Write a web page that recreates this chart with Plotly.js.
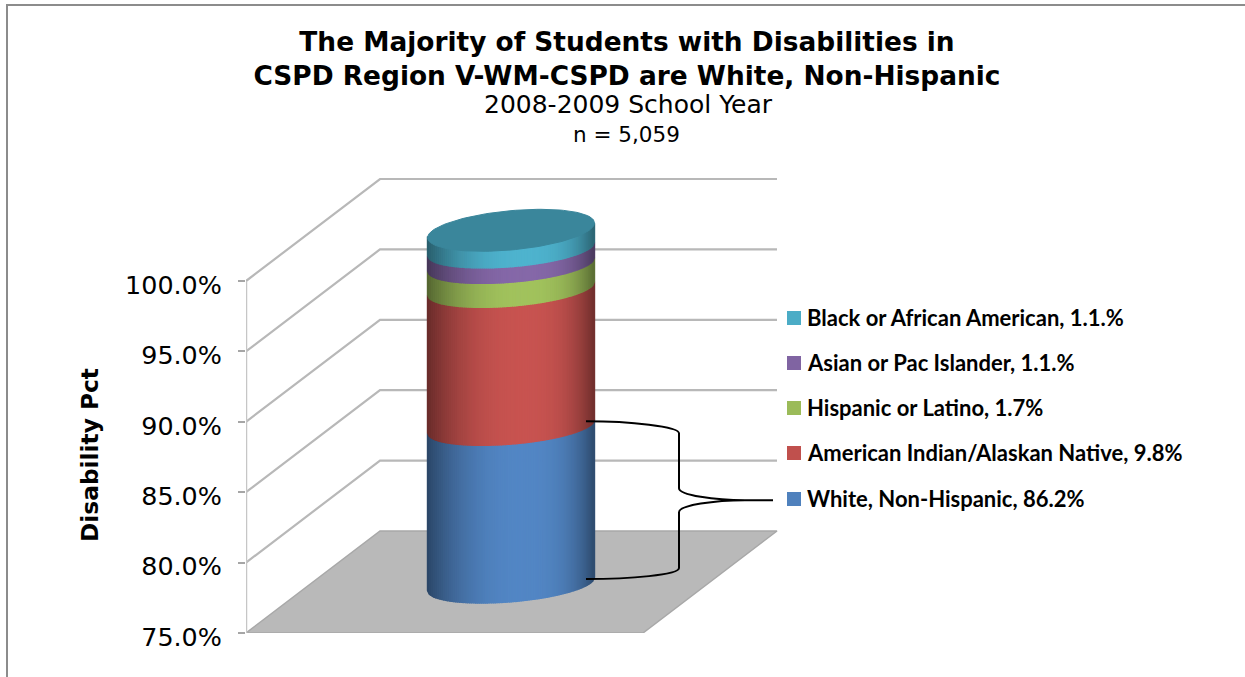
<!DOCTYPE html>
<html>
<head>
<meta charset="utf-8">
<script src="https://cdn.plot.ly/plotly-3.0.1.min.js"></script>
<style>html,body{margin:0;padding:0;background:#fff;overflow:hidden}</style>
</head>
<body>
<div id="chart" style="width:1245px;height:677px"></div>
<script>
// Stack order runs from the floor upward.
const categories = ["White, Non-Hispanic", "American Indian/Alaskan Native", "Hispanic or Latino", "Asian or Pac Islander", "Black or African American"];
const values = [86.2, 9.8, 1.7, 1.1, 1.1];
const valueLabels = ["86.2%", "9.8%", "1.7%", "1.1.%", "1.1.%"];
const colors = ["#4F81BD", "#C0504D", "#9BBB59", "#8064A2", "#4BACC6"];
const tickValues = [75, 80, 85, 90, 95, 100];

// Page geometry of the oblique box.
const WIDTH = 1245, HEIGHT = 677;
const AXIS_X = 246, FLOOR_Y = 633, PX_PER_UNIT = 14.08;
const DEPTH_DX = 134, DEPTH_UNITS = 102 / PX_PER_UNIT, WALL_W = 397;
const CYL_X = 511 - AXIS_X, CYL_RX = 83.5, CYL_SHIFT = 49 / PX_PER_UNIT;
const RIM_H = 19 / PX_PER_UNIT, CAP_H = 21 / PX_PER_UNIT, TILT = 0.36;
const STRIPS = 84;

const xOf = px => px - AXIS_X;
const yOf = py => 75 + (FLOOR_Y - py) / PX_PER_UNIT;
const paperX = px => (px - AXIS_X) / (WIDTH - AXIS_X);
const paperY = py => (FLOOR_Y - py) / FLOOR_Y;

function shade(hex, f) {
  const n = parseInt(hex.slice(1), 16);
  const c = [n >> 16, (n >> 8) & 255, n & 255].map(v => Math.min(255, Math.round(v * f)));
  return `rgb(${c[0]},${c[1]},${c[2]})`;
}
// Side lighting: dark at both silhouettes, brightest a little right of centre.
function light(s) {
  const peak = 0.56;
  if (s < peak) return 1.04 - 0.50 * Math.pow((peak - s) / peak, 2.2);
  return 1.04 - 0.46 * Math.pow((s - peak) / (1 - peak), 3);
}
const rimY = (v, t, h) => v + CYL_SHIFT + h * Math.sin(t + TILT);

const traces = [];

// Floor
traces.push({
  x: [0, DEPTH_DX, DEPTH_DX + WALL_W, WALL_W, 0],
  y: [75, 75 + DEPTH_UNITS, 75 + DEPTH_UNITS, 75, 75],
  mode: "lines", fill: "toself", fillcolor: "#b9b9b9",
  line: {color: "#a8a8a8", width: 1.5}, hoverinfo: "skip", showlegend: false
});
// Side and back wall gridlines
tickValues.slice(1).forEach(v => traces.push({
  x: [0, DEPTH_DX, DEPTH_DX + WALL_W],
  y: [v, v + DEPTH_UNITS, v + DEPTH_UNITS],
  mode: "lines", line: {color: "#b8b8b8", width: 2.2}, hoverinfo: "skip", showlegend: false
}));
// Vertical axis line
traces.push({
  x: [0, 0], y: [tickValues[0], tickValues[tickValues.length - 1]],
  mode: "lines", line: {color: "#c6c6c6", width: 2.5}, hoverinfo: "skip", showlegend: false
});

// Cylinder body: each stacked segment is cut into vertical strips for the shading.
// The value axis starts at 75, so the lowest segment rises from the floor to its own value.
let lo = 75;
values.forEach((val, i) => {
  const hi = i === 0 ? val : lo + val;
  // The last segment tucks slightly under the top face so no seam shows.
  const drawnHi = i === values.length - 1 ? hi + 0.25 : hi;
  for (let k = 0; k < STRIPS; k++) {
    const s0 = k / STRIPS, s1 = (k + 1) / STRIPS;
    const a0 = Math.PI + Math.acos(1 - 2 * s0), a1 = Math.PI + Math.acos(1 - 2 * s1);
    const x0 = CYL_X + CYL_RX * (2 * s0 - 1), x1 = CYL_X + CYL_RX * (2 * s1 - 1);
    const col = shade(colors[i], light((s0 + s1) / 2));
    traces.push({
      x: [x0, x1, x1, x0, x0],
      y: [rimY(lo, a0, RIM_H), rimY(lo, a1, RIM_H), rimY(drawnHi, a1, RIM_H), rimY(drawnHi, a0, RIM_H), rimY(lo, a0, RIM_H)],
      mode: "lines", fill: "toself", fillcolor: col,
      line: {color: col, width: 1.4}, hoverinfo: "skip", showlegend: false
    });
  }
  lo = hi;
});

// Top face of the cylinder
const capX = [], capY = [];
for (let d = 0; d <= 360; d += 3) {
  const t = d * Math.PI / 180;
  capX.push(CYL_X + CYL_RX * Math.cos(t));
  capY.push(rimY(100, t, CAP_H) + 0.12);
}
traces.push({
  x: capX, y: capY, mode: "lines", fill: "toself", fillcolor: "#3a869b",
  line: {color: "#3a869b", width: 1}, hoverinfo: "skip", showlegend: false
});

// Key: swatches and labels, listed top of the stack first.
const keyRows = [318, 363, 408, 453, 499];
const keyOrder = [4, 3, 2, 1, 0];
traces.push({
  x: keyRows.map(() => xOf(794)), y: keyRows.map(yOf),
  mode: "markers", marker: {symbol: "square", size: 14, color: keyOrder.map(i => colors[i]), line: {width: 0}},
  text: keyOrder.map(i => categories[i]), hoverinfo: "text", showlegend: false
});

const annotations = keyOrder.map((c, r) => ({
  text: `<b>${categories[c]}, ${valueLabels[c]}</b>`,
  xref: "paper", yref: "paper", x: paperX(805), y: paperY(keyRows[r] - 0.5),
  xanchor: "left", yanchor: "middle", showarrow: false,
  font: {family: "Lato, sans-serif", size: 22, color: "#000"}
}));
annotations.push(
  {text: "2008-2009 School Year", xref: "paper", yref: "paper", x: paperX(628), y: paperY(104),
   xanchor: "center", yanchor: "middle", showarrow: false,
   font: {family: "DejaVu Sans, sans-serif", size: 25, color: "#000"}},
  {text: "n = 5,059", xref: "paper", yref: "paper", x: paperX(626), y: paperY(134),
   xanchor: "center", yanchor: "middle", showarrow: false,
   font: {family: "DejaVu Sans, sans-serif", size: 21.5, color: "#000"}},
  {text: "<b>Disability Pct</b>", xref: "paper", yref: "paper", x: paperX(89), y: paperY(455),
   xanchor: "center", yanchor: "middle", textangle: -90, showarrow: false,
   font: {family: "DejaVu Sans, sans-serif", size: 23.3, color: "#000"}}
);

// Brace tying the lowest segment to its key entry.
const braceTop = FLOOR_Y - 49 - (values[0] - 75) * PX_PER_UNIT - 5;
const braceBottom = FLOOR_Y - 49 - 5;
const braceMid = (braceTop + braceBottom) / 2;
const pt = (px, py) => `${xOf(px)},${yOf(py)}`;
const bracePath = [
  "M", pt(586, braceTop), "C", pt(630, braceTop), pt(679, braceTop + 5), pt(679, braceTop + 12),
  "L", pt(679, braceMid - 12), "C", pt(679, braceMid - 5), pt(715, braceMid), pt(745, braceMid),
  "L", pt(773, braceMid), "L", pt(745, braceMid),
  "C", pt(715, braceMid), pt(679, braceMid + 5), pt(679, braceMid + 12),
  "L", pt(679, braceBottom - 11), "C", pt(679, braceBottom - 4), pt(630, braceBottom), pt(586, braceBottom)
].join(" ");

const shapes = [
  {type: "path", xref: "x", yref: "y", path: bracePath, line: {color: "#000", width: 2}},
  // Chart frame, running off the page at the top right and bottom left.
  {type: "line", xref: "paper", yref: "paper", x0: paperX(7), x1: paperX(WIDTH), y0: paperY(5), y1: paperY(5),
   line: {color: "#8c8c8c", width: 2}},
  {type: "line", xref: "paper", yref: "paper", x0: paperX(7), x1: paperX(7), y0: paperY(4), y1: paperY(HEIGHT),
   line: {color: "#8c8c8c", width: 2}}
];

const layout = {
  width: WIDTH, height: HEIGHT,
  margin: {l: AXIS_X, r: 0, t: 0, b: HEIGHT - FLOOR_Y, pad: 0},
  paper_bgcolor: "#fff", plot_bgcolor: "#fff",
  showlegend: false,
  title: {
    text: "<b>The Majority of Students with Disabilities in<br>CSPD Region V-WM-CSPD are White, Non-Hispanic</b>",
    x: 627 / WIDTH, xref: "container", xanchor: "center",
    y: 1 - 51 / HEIGHT, yref: "container", yanchor: "middle",
    font: {family: "DejaVu Sans, sans-serif", size: 26.4, color: "#000"}
  },
  xaxis: {range: [0, WIDTH - AXIS_X], visible: false, fixedrange: true},
  yaxis: {
    range: [75, yOf(0)], tickmode: "array", tickvals: tickValues,
    ticktext: tickValues.map(v => v.toFixed(1) + "%"),
    ticks: "outside", ticklen: 7, tickwidth: 2, tickcolor: "#a6a6a6",
    ticklabelstandoff: 11, ticklabelshift: 4,
    tickfont: {family: "DejaVu Sans, sans-serif", size: 25.4, color: "#000"},
    showgrid: false, zeroline: false, showline: false, fixedrange: true
  },
  annotations, shapes
};

Plotly.newPlot("chart", traces, layout, {displayModeBar: false, staticPlot: true});
</script>
</body>
</html>
